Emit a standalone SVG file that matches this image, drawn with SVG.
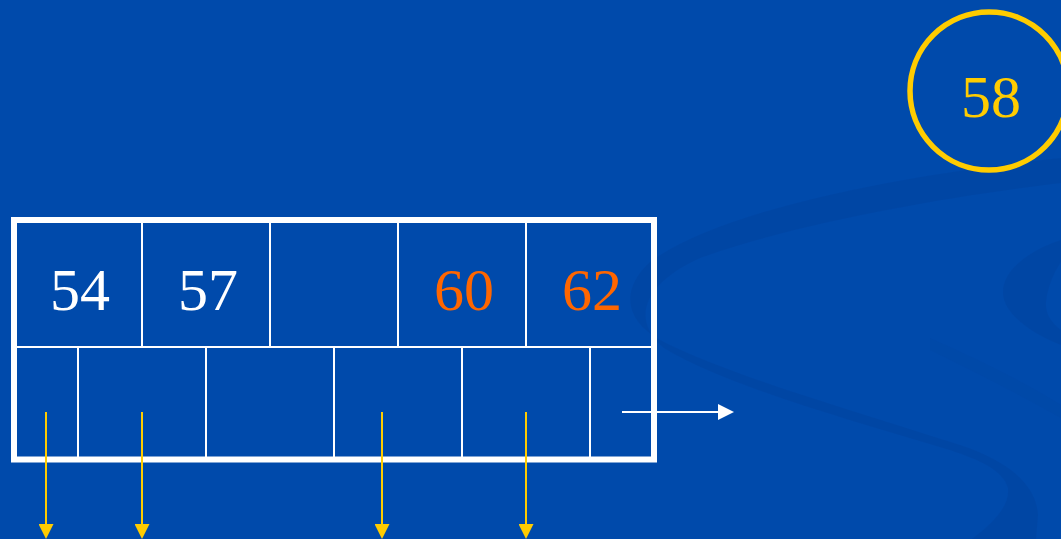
<svg xmlns="http://www.w3.org/2000/svg" width="1061" height="539" viewBox="0 0 1061 539">
  <style>
    .num { font-family: "Liberation Serif", "Times New Roman", serif; font-size: 60px; text-anchor: middle; }
    .white { fill: #FFFFFF; }
    .orange { fill: #FF6600; }
    .yellow { fill: #FFCC00; }
    .grid { stroke: #FFFFFF; stroke-width: 2; fill: none; }
    .swoosh { fill: #0044A0; opacity: 0.6; }
    .faint { opacity: 0.2; }
  </style>
  <defs>
    <marker id="ahY" markerUnits="userSpaceOnUse" markerWidth="15" markerHeight="15" refX="0" refY="7.5" orient="auto">
      <path d="M0,0 L15,7.5 L0,15 Z" fill="#FFCC00"/>
    </marker>
    <marker id="ahW" markerUnits="userSpaceOnUse" markerWidth="16" markerHeight="16" refX="0" refY="8" orient="auto">
      <path d="M0,0 L16,8 L0,16 Z" fill="#FFFFFF"/>
    </marker>
  </defs>

  <!-- background -->
  <rect x="0" y="0" width="1061" height="539" fill="#004AAB"/>
  <g id="background-swoosh">
    <path class="swoosh" d="M1061 158 C 900 175, 720 210, 650 262 C 620 290, 625 320, 660 340 C 720 372, 850 410, 960 445 C 1010 462, 1036 485, 1038 515 L 1036 539 L 972 539 C 995 522, 1010 505, 1008 488 C 1003 470, 980 460, 950 450 C 840 417, 720 383, 664 348 C 632 322, 640 285, 700 258 C 800 222, 950 196, 1061 183 Z"/>
    <path class="swoosh" d="M1061 240 C 1030 250, 1003 270, 1003 292 C 1003 315, 1035 335, 1061 345 L 1061 330 C 1050 322, 1045 312, 1046 302 C 1047 290, 1052 275, 1061 262 Z"/>
    <path class="swoosh faint" d="M930 338 C 980 360, 1030 385, 1061 405 L 1061 418 C 1020 395, 975 372, 930 350 Z"/>
  </g>

  <g id="circle-58">
    <circle cx="989" cy="91" r="79" fill="none" stroke="#FFCC00" stroke-width="5.5"/>
    <text class="num yellow" x="991" y="117">58</text>
  </g>

  <g id="node-page">
    <rect x="14" y="220" width="640" height="239.5" fill="none" stroke="#FFFFFF" stroke-width="6"/>
    <line class="grid" x1="17" y1="347" x2="651" y2="347"/>
    <line class="grid" x1="142" y1="223" x2="142" y2="347"/>
    <line class="grid" x1="270" y1="223" x2="270" y2="347"/>
    <line class="grid" x1="398" y1="223" x2="398" y2="347"/>
    <line class="grid" x1="526" y1="223" x2="526" y2="347"/>
    <line class="grid" x1="78" y1="347" x2="78" y2="457"/>
    <line class="grid" x1="206" y1="347" x2="206" y2="457"/>
    <line class="grid" x1="334" y1="347" x2="334" y2="457"/>
    <line class="grid" x1="462" y1="347" x2="462" y2="457"/>
    <line class="grid" x1="590" y1="347" x2="590" y2="457"/>
    <text class="num white" x="80" y="310">54</text>
    <text class="num white" x="208" y="310">57</text>
    <text class="num orange" x="464" y="310">60</text>
    <text class="num orange" x="592" y="310">62</text>
  </g>

  <g id="connectors">
    <line x1="46" y1="412" x2="46" y2="524" stroke="#FFCC00" stroke-width="2" marker-end="url(#ahY)"/>
    <line x1="142" y1="412" x2="142" y2="524" stroke="#FFCC00" stroke-width="2" marker-end="url(#ahY)"/>
    <line x1="382" y1="412" x2="382" y2="524" stroke="#FFCC00" stroke-width="2" marker-end="url(#ahY)"/>
    <line x1="526" y1="412" x2="526" y2="524" stroke="#FFCC00" stroke-width="2" marker-end="url(#ahY)"/>
    <line x1="622" y1="412" x2="718" y2="412" stroke="#FFFFFF" stroke-width="2" marker-end="url(#ahW)"/>
  </g>
</svg>
